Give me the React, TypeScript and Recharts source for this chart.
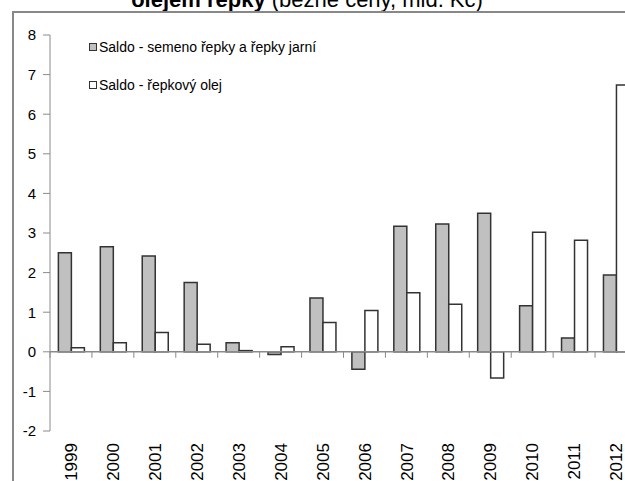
import React from 'react';
import { BarChart, Bar, XAxis, YAxis, ReferenceLine } from 'recharts';

const years = ['1999', '2000', '2001', '2002', '2003', '2004', '2005', '2006', '2007', '2008', '2009', '2010', '2011', '2012'];
const semeno = [2.5, 2.65, 2.42, 1.75, 0.23, -0.07, 1.36, -0.44, 3.17, 3.23, 3.5, 1.16, 0.35, 1.94];
const olej = [0.1, 0.23, 0.49, 0.19, 0.03, 0.13, 0.74, 1.04, 1.49, 1.2, -0.66, 3.02, 2.82, 6.74];
const yTicks = [-2, -1, 0, 1, 2, 3, 4, 5, 6, 7, 8];

const seriesNames = ['Saldo - semeno řepky a řepky jarní', 'Saldo - řepkový olej'];
const seriesFills = ['#c0c0c0', '#fff'];

const data = years.map((y, i) => ({ year: y, semeno: semeno[i], olej: olej[i] }));

const FONT = "'Liberation Sans Narrow', 'Arial Narrow', 'Liberation Sans', Arial, sans-serif";
const AXIS = '#8a8a8a';

// layout
const W = 650;
const H = 481;
const TOP = 35;
const PLOT_BOTTOM = 431;
const LEFT = 50;
const RIGHT_M = 13;
const BAND = (W - LEFT - RIGHT_M) / years.length;
const ZERO_Y = TOP + (8 / 10) * (PLOT_BOTTOM - TOP);
const LABEL_TOP = 443;

const XTick = (props: any) => {
    const { x, payload } = props;
    return (
        <g>
            <line x1={x - BAND / 2} x2={x - BAND / 2} y1={ZERO_Y} y2={ZERO_Y + 6} stroke={AXIS} strokeWidth={1} />
            <text
                x={x}
                y={LABEL_TOP}
                dy="0.36em"
                textAnchor="end"
                transform={`rotate(-90, ${x}, ${LABEL_TOP})`}
                fontSize={17}
                fontFamily={FONT}
                fill="#000"
            >
                {payload.value}
            </text>
        </g>
    );
};

export default function App() {
    return (
        <div style={{ position: 'fixed', left: 0, top: 0, width: 625, height: 481, overflow: 'hidden', background: '#fff' }}>
            <svg width={625} height={481} style={{ position: 'absolute', left: 0, top: 0 }}>
                <text x={307} y={7} textAnchor="middle" fontFamily="'Liberation Sans', Arial, sans-serif" fontSize={22} fill="#000">
                    <tspan fontWeight="bold">olejem řepky</tspan>
                    <tspan> (běžné ceny, mld. Kč)</tspan>
                </text>
                <line x1={12} x2={625} y1={12} y2={12} stroke="#888" strokeWidth={2} />
                <line x1={13} x2={13} y1={12} y2={481} stroke="#888" strokeWidth={2} />
            </svg>
            <div style={{ position: 'absolute', left: 0, top: 0 }}>
                <BarChart
                    width={W}
                    height={H}
                    data={data}
                    margin={{ top: TOP, right: RIGHT_M, bottom: 0, left: 0 }}
                    barCategoryGap="20%"
                    barGap={0}
                >
                    <YAxis
                        width={LEFT}
                        domain={[-2, 8]}
                        ticks={yTicks}
                        interval={0}
                        tickSize={7}
                        tickMargin={7}
                        axisLine={{ stroke: AXIS }}
                        tickLine={{ stroke: AXIS }}
                        tick={{ fill: '#000', fontSize: 15, fontFamily: FONT }}
                    />
                    <XAxis
                        dataKey="year"
                        height={H - PLOT_BOTTOM}
                        axisLine={false}
                        tickLine={false}
                        interval={0}
                        tick={<XTick />}
                    />
                    <ReferenceLine y={0} stroke={AXIS} strokeWidth={1.5} />
                    <Bar dataKey="semeno" name={seriesNames[0]} fill={seriesFills[0]} stroke="#333" strokeWidth={1.5} isAnimationActive={false} />
                    <Bar dataKey="olej" name={seriesNames[1]} fill={seriesFills[1]} stroke="#333" strokeWidth={1.5} isAnimationActive={false} />
                </BarChart>
            </div>
            <div style={{ position: 'absolute', left: 89, top: 37, fontFamily: FONT, fontSize: 14, color: '#000' }}>
                {seriesNames.map((n, i) => (
                    <div key={n} style={{ display: 'flex', alignItems: 'center', height: 20, marginBottom: i === 0 ? 18 : 0, whiteSpace: 'nowrap' }}>
                        <span
                            style={{
                                display: 'inline-block',
                                width: 6,
                                height: 6,
                                border: '1px solid #333',
                                background: seriesFills[i],
                                marginRight: 2,
                            }}
                        />
                        <span>{n}</span>
                    </div>
                ))}
            </div>
        </div>
    );
}
